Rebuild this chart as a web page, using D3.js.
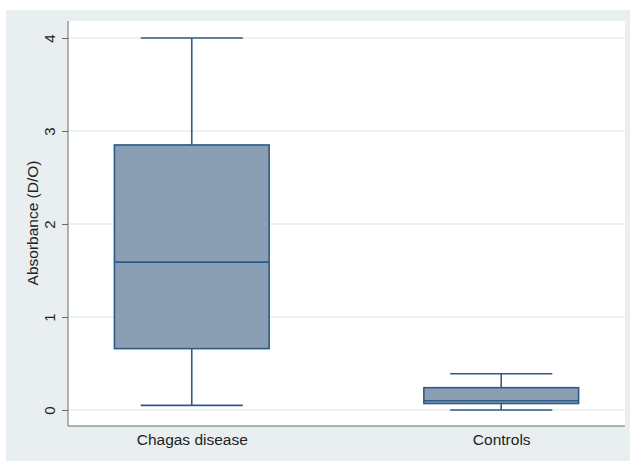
<!DOCTYPE html>
<meta charset="utf-8">
<title>Absorbance box plot</title>
<style>
body { margin: 0; background: #fff; }
svg { display: block; font-family: "Liberation Sans", Arial, sans-serif; }
.grid line { stroke: #e6eef0; stroke-width: 1.5px; }
.axis path, .axis line { stroke: #6a6a6a; }
.axis text { fill: #222; font-size: 15px; }
.xaxis text { font-size: 15.5px; }
.box rect { fill: #8a9fb4; stroke: #2c5b87; stroke-width: 1.6px; }
.box line { stroke: #2c5b87; stroke-width: 1.6px; }
</style>
<body>
<script src="https://cdn.jsdelivr.net/npm/d3@7"></script>
<script>

// summary stats
var groups = ["Chagas disease", "Controls"];
var whiskerLow = [0.05, 0.0];
var q1 = [0.66, 0.07];
var median = [1.59, 0.10];
var q3 = [2.85, 0.24];
var whiskerHigh = [4.0, 0.39];
var yTicks = [0, 1, 2, 3, 4];

var width = 630,
    height = 461;

var plot = {left: 68, right: 625, top: 21, bottom: 426};

var svg = d3.select("body").append("svg")
    .attr("width", width)
    .attr("height", height);

// outer grey panel
svg.append("rect")
    .attr("x", 6).attr("y", 10)
    .attr("width", width - 6).attr("height", height - 10)
    .attr("fill", "#e9eff1");

svg.append("rect")
    .attr("x", plot.left).attr("y", plot.top)
    .attr("width", plot.right - plot.left).attr("height", plot.bottom - plot.top)
    .attr("fill", "#fff");

var x = d3.scalePoint()
    .domain(groups)
    .range([plot.left, plot.right])
    .padding(0.4);

var y = d3.scaleLinear()
    .domain([0, 4])
    .range([410, 38]);

var step = x.step(),
    boxW = step * 0.5,
    capW = step * 0.33;

svg.append("g")
    .attr("class", "grid")
  .selectAll("line")
    .data(yTicks)
  .enter().append("line")
    .attr("x1", plot.left)
    .attr("x2", plot.right)
    .attr("y1", function(d) { return y(d); })
    .attr("y2", function(d) { return y(d); });

// y axis, stata style: labels turned on their side
var yAxis = svg.append("g")
    .attr("class", "axis")
    .attr("transform", "translate(" + plot.left + ",0)")
    .call(d3.axisLeft(y).tickValues(yTicks).tickSize(6).tickSizeOuter(0).tickFormat(d3.format("d")));
yAxis.select(".domain").attr("d", "M0," + plot.top + "V" + plot.bottom);
yAxis.selectAll("text")
    .attr("x", 0).attr("dy", null)
    .attr("text-anchor", "middle")
    .attr("transform", "translate(-19,0)rotate(-90)")
    .attr("dominant-baseline", "central");

var xAxis = svg.append("g")
    .attr("class", "axis xaxis")
    .attr("transform", "translate(0," + plot.bottom + ")")
    .call(d3.axisBottom(x).tickSize(0).tickPadding(8));
xAxis.select(".domain").attr("d", "M" + plot.left + ",0H" + plot.right);

svg.append("text")
    .attr("transform", "translate(32,223)rotate(-90)")
    .attr("text-anchor", "middle")
    .attr("dominant-baseline", "central")
    .attr("fill", "#222")
    .style("font-size", "15.5px")
    .text("Absorbance (D/O)");

var box = svg.selectAll(".box")
    .data(groups)
  .enter().append("g")
    .attr("class", "box");

box.append("line")
    .attr("x1", function(d) { return x(d); })
    .attr("x2", function(d) { return x(d); })
    .attr("y1", function(d, i) { return y(whiskerHigh[i]); })
    .attr("y2", function(d, i) { return y(whiskerLow[i]); });

box.append("rect")
    .attr("x", function(d) { return x(d) - boxW / 2; })
    .attr("width", boxW)
    .attr("y", function(d, i) { return y(q3[i]); })
    .attr("height", function(d, i) { return y(q1[i]) - y(q3[i]); });

box.append("line")
    .attr("x1", function(d) { return x(d) - boxW / 2; })
    .attr("x2", function(d) { return x(d) + boxW / 2; })
    .attr("y1", function(d, i) { return y(median[i]); })
    .attr("y2", function(d, i) { return y(median[i]); });

[whiskerHigh, whiskerLow].forEach(function(arr) {
  box.append("line")
      .attr("x1", function(d) { return x(d) - capW / 2; })
      .attr("x2", function(d) { return x(d) + capW / 2; })
      .attr("y1", function(d, i) { return y(arr[i]); })
      .attr("y2", function(d, i) { return y(arr[i]); });
});

</script>
</body>
</html>
